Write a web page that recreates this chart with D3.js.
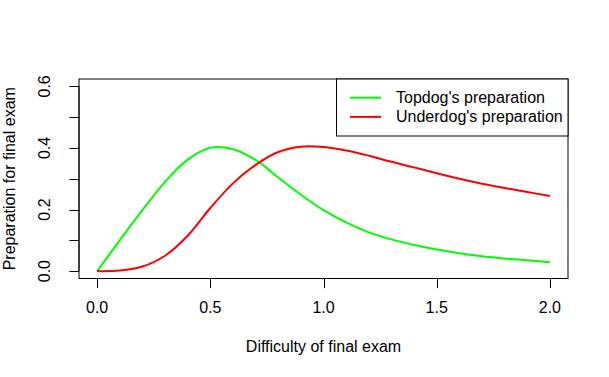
<!DOCTYPE html>
<html>
<head>
<meta charset="utf-8">
<script src="https://cdn.jsdelivr.net/npm/d3@7"></script>
<style>
  body { margin: 0; background: #fff; }
  svg text { font-family: "Liberation Sans", Arial, sans-serif; font-size: 16px; fill: #000; }
</style>
</head>
<body>
<div id="chart"></div>
<script>
//DATA (every 0.1 along the x axis)
const difficulty = [0, 0.1, 0.2, 0.3, 0.4, 0.5, 0.6, 0.7, 0.8, 0.9, 1.0, 1.1, 1.2, 1.3, 1.4, 1.5, 1.6, 1.7, 1.8, 1.9, 2.0];
const topdog = [0, 0.100, 0.198, 0.290, 0.362, 0.401, 0.396, 0.361, 0.304, 0.248, 0.198, 0.158, 0.126, 0.103, 0.085, 0.070, 0.058, 0.048, 0.041, 0.035, 0.029];
const underdog = [0, 0.002, 0.015, 0.050, 0.115, 0.205, 0.285, 0.345, 0.387, 0.404, 0.403, 0.392, 0.375, 0.355, 0.337, 0.318, 0.300, 0.284, 0.270, 0.257, 0.244];
const xTicks = [0, 0.5, 1.0, 1.5, 2.0];
const yTicks = [0, 0.1, 0.2, 0.3, 0.4, 0.5, 0.6];
const yLabelTicks = [0, 0.2, 0.4, 0.6]; // R drops the odd ones (overlap)
const seriesNames = ["Topdog's preparation", "Underdog's preparation"];
const seriesColors = ["#00ff00", "#ff0000"];

const W = 609, H = 377;
// plot box in px (R default margins at this size)
const box = {left: 79, right: 568, top: 79, bottom: 278.5};

const svg = d3.select("#chart").append("svg")
  .attr("width", W).attr("height", H);

// R style 4% expansion of the ranges
const x = d3.scaleLinear().domain([-0.08, 2.08]).range([box.left, box.right]);
const y = d3.scaleLinear().domain([-0.024, 0.624]).range([box.bottom, box.top]);

// x axis
const xAxis = svg.append("g");
xAxis.append("line")
  .attr("x1", x(0)).attr("x2", x(2))
  .attr("y1", box.bottom).attr("y2", box.bottom)
  .attr("stroke", "#000");
xAxis.selectAll(".xt").data(xTicks).enter().append("line")
  .attr("x1", d => Math.round(x(d)) + 0.5).attr("x2", d => Math.round(x(d)) + 0.5)
  .attr("y1", box.bottom).attr("y2", box.bottom + 9.6)
  .attr("stroke", "#000");
xAxis.selectAll(".xl").data(xTicks).enter().append("text")
  .attr("x", d => x(d)).attr("y", 313)
  .attr("text-anchor", "middle")
  .text(d => d.toFixed(1));

// y axis
const yAxis = svg.append("g");
yAxis.append("line")
  .attr("x1", box.left).attr("x2", box.left)
  .attr("y1", y(0)).attr("y2", y(0.6))
  .attr("stroke", "#000");
yAxis.selectAll(".yt").data(yTicks).enter().append("line")
  .attr("x1", box.left - 9.6).attr("x2", box.left)
  .attr("y1", d => Math.round(y(d)) + 0.5).attr("y2", d => Math.round(y(d)) + 0.5)
  .attr("stroke", "#000");
yAxis.selectAll(".yl").data(yLabelTicks).enter().append("text")
  .attr("transform", d => "translate(50," + y(d) + ") rotate(-90)")
  .attr("text-anchor", "middle")
  .text(d => d.toFixed(1));

// titles
svg.append("text")
  .attr("x", (box.left + box.right) / 2).attr("y", 352)
  .attr("text-anchor", "middle")
  .text("Difficulty of final exam");
svg.append("text")
  .attr("transform", "translate(14.5," + (box.top + box.bottom) / 2 + ") rotate(-90)")
  .attr("text-anchor", "middle")
  .text("Preparation for final exam");

// plot box
svg.append("rect")
  .attr("x", box.left).attr("y", box.top)
  .attr("width", box.right - box.left).attr("height", box.bottom - box.top)
  .attr("fill", "none").attr("stroke", "#000");

// curves
const line = d3.line()
  .x(d => x(d[0])).y(d => y(d[1]))
  .curve(d3.curveCatmullRom.alpha(0.5));
const curves = [
  d3.zip(difficulty, topdog),
  d3.zip(difficulty, underdog)
];
svg.selectAll(".curve").data(curves).enter().append("path")
  .attr("d", line)
  .attr("fill", "none")
  .attr("stroke", (d, i) => seriesColors[i])
  .attr("stroke-width", 2);

// legend, top right inside the box
const legend = svg.append("g");
legend.append("rect")
  .attr("x", 336.5).attr("y", box.top)
  .attr("width", box.right - 336.5).attr("height", 57)
  .attr("fill", "#fff").attr("stroke", "#000");
seriesNames.forEach((name, i) => {
  const ly = 97.7 + i * 19.2;
  legend.append("line")
    .attr("x1", 350).attr("x2", 381)
    .attr("y1", ly).attr("y2", ly)
    .attr("stroke", seriesColors[i]).attr("stroke-width", 2);
  legend.append("text")
    .attr("x", 396).attr("y", ly + 5.5)
    .text(name);
});
</script>
</body>
</html>
